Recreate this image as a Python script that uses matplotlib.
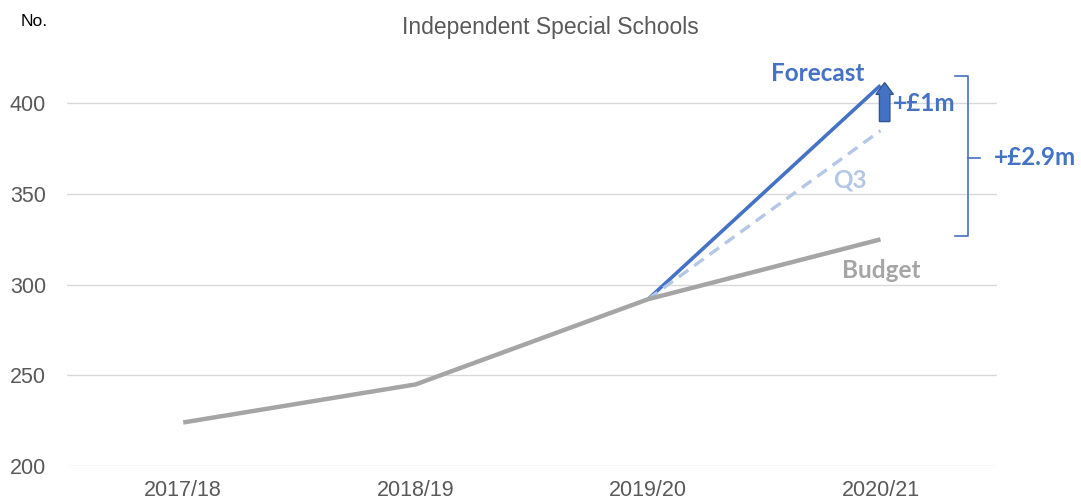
import matplotlib
matplotlib.use("Agg")
import matplotlib.pyplot as plt
from matplotlib.patches import FancyArrow

years = ["2017/18", "2018/19", "2019/20", "2020/21"]
budget = [224, 245, 292, 325]
forecast_years = ["2019/20", "2020/21"]
forecast = [292, 410]
q3 = [292, 385]
yticks = [200, 250, 300, 350, 400]

BLUE = "#4472C4"
LIGHT = "#B4C7E7"
GREY = "#A5A5A5"
TXT = "#595959"

fig = plt.figure(figsize=(10.81, 5.01), dpi=100)
ax = fig.add_axes([0.062, 0.0699, 0.860, 0.796])

xi = list(range(len(years)))
fx = [years.index(y) for y in forecast_years]

ax.plot(fx, forecast, color=BLUE, lw=2.6, solid_capstyle="butt", zorder=3)
ax.plot(fx, q3, color=LIGHT, lw=2.4, ls=(0, (3.5, 2.2)), zorder=3)
ax.plot(xi, budget, color=GREY, lw=3.2, solid_capstyle="butt", zorder=4)

ax.set_xlim(-0.5, 3.5)
ax.set_ylim(200, 420)
ax.set_xticks(xi)
ax.set_xticklabels(years)
ax.set_yticks(yticks)
ax.grid(axis="y", color="#D9D9D9", lw=1)
ax.set_axisbelow(True)
for s in ax.spines.values():
    s.set_visible(False)
ax.tick_params(length=0, labelsize=15.5, colors=TXT, labelfontfamily="Liberation Sans")
ax.tick_params(axis="x", pad=10)
ax.tick_params(axis="y", pad=15)

fig.text(0.509, 0.945, "Independent Special Schools", ha="center", va="center",
         fontsize=16.5, color=TXT, family="Liberation Sans")
fig.text(0.019, 0.957, "No.", ha="left", va="center", fontsize=12.5,
         color="black", family="Liberation Sans")

bold = dict(family="Lato", fontweight="bold", fontsize=17.5)
ax.text(2.73, 416.5, "Forecast", color=BLUE, ha="center", va="center", **bold)
ax.text(2.868, 357.5, "Q3", color=LIGHT, ha="center", va="center", **bold)
ax.text(3.005, 308, "Budget", color=GREY, ha="center", va="center", **bold)
ax.text(3.19, 400, "+£1m", color=BLUE, ha="center", va="center", clip_on=False, **bold)
ax.text(3.49, 370, "+£2.9m", color=BLUE, ha="left", va="center", clip_on=False, **bold)

arr = FancyArrow(3.018, 390, 0, 21.5, width=0.045, head_width=0.075,
                 head_length=6.5, length_includes_head=True,
                 facecolor=BLUE, edgecolor="#2F5597", lw=1, zorder=5)
ax.add_patch(arr)

bx0, bx1, bx2 = 3.32, 3.375, 3.427
ytop, ybot, ymid = 415, 327, 370
ax.plot([bx0, bx1, bx1, bx0], [ytop, ytop, ybot, ybot], color=BLUE, lw=1.2, clip_on=False)
ax.plot([bx1, bx2], [ymid, ymid], color=BLUE, lw=1.2, clip_on=False)

fig.savefig("out.png", dpi=100)
